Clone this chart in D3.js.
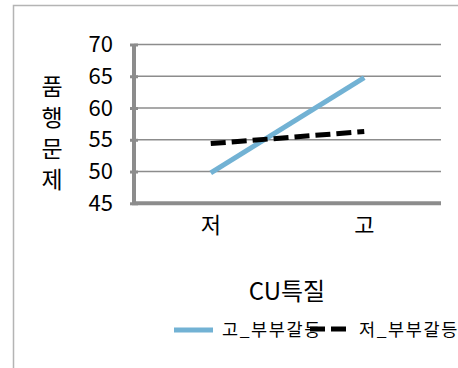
<!DOCTYPE html>
<html><head><meta charset="utf-8">
<script src="https://cdn.jsdelivr.net/npm/d3@7"></script>
<style>body{margin:0;background:#fff;}svg{display:block;font-family:"Noto Sans CJK KR","Noto Sans",sans-serif;}</style>
</head><body>
<script>
const categories = ["저", "고"];
const seriesNames = ["고_부부갈등", "저_부부갈등"];
const highConflict = [49.8, 64.8];
const lowConflict = [54.4, 56.3];
const yTicks = [45, 50, 55, 60, 65, 70];
const yTitle = "품행문제";
const xTitle = "CU특질";

(function () {
const W = 458, H = 368;
const svg = d3.select("body").append("svg").attr("width", W).attr("height", H);

svg.append("rect").attr("x", 13.5).attr("y", 5.5).attr("width", 460).attr("height", 380)
  .attr("fill", "#fff").attr("stroke", "#b4b4b4").attr("stroke-width", 1.5);

const pl = 134, pr = 441, pt = 44.5, pb = 203.3;
const x = d3.scaleBand().domain(categories).range([pl, pr]);
const y = d3.scaleLinear().domain([45, 70]).range([pb, pt]);

// gridlines
svg.append("g").selectAll("line").data(yTicks.filter(d => d > 45)).join("line")
  .attr("x1", pl).attr("x2", pr).attr("y1", d => y(d)).attr("y2", d => y(d))
  .attr("stroke", "#8c8c8c").attr("stroke-width", 1.5);

// y axis
const yAxis = svg.append("g").attr("transform", `translate(${pl},0)`)
  .call(d3.axisLeft(y).tickValues(yTicks).tickSize(5).tickPadding(16).tickFormat(d3.format("d")));
yAxis.select(".domain").attr("stroke", "#8c8c8c").attr("stroke-width", 4).attr("d", `M0,${pt}V${pb}`);
yAxis.selectAll(".tick line").attr("stroke", "#8c8c8c").attr("stroke-width", 3).attr("x1", 4).attr("x2", -4);
yAxis.selectAll(".tick text").attr("font-size", 22).attr("fill", "#000").attr("font-family", "'Noto Sans CJK KR'");

// x axis
const xAxis = svg.append("g").attr("transform", `translate(0,${pb})`)
  .call(d3.axisBottom(x).tickSize(0).tickPadding(14));
xAxis.select(".domain").attr("stroke", "#8c8c8c").attr("stroke-width", 4).attr("d", `M${pl - 2},0H${pr}`);
xAxis.selectAll(".tick text").attr("font-size", 22).attr("fill", "#000").attr("font-family", "'Noto Sans CJK KR'");

const line = d3.line().x((d, i) => x(categories[i]) + x.bandwidth() / 2).y(d => y(d));

svg.append("path").datum(highConflict).attr("d", line)
  .attr("fill", "none").attr("stroke", "#72b2d4").attr("stroke-width", 5);
svg.append("path").datum(lowConflict).attr("d", line)
  .attr("fill", "none").attr("stroke", "#000").attr("stroke-width", 5).attr("stroke-dasharray", "15,6");

// y title stacked
svg.append("g").selectAll("text").data(Array.from(yTitle)).join("text")
  .attr("x", 52).attr("y", (d, i) => 95 + i * 31).attr("text-anchor", "middle")
  .attr("font-size", 23).attr("fill", "#000").text(d => d);

svg.append("text").attr("x", 287).attr("y", 300).attr("text-anchor", "middle")
  .attr("font-size", 24).attr("fill", "#000").text(xTitle);

// legend
const lg = svg.append("g");
lg.append("line").attr("x1", 174).attr("x2", 213).attr("y1", 330).attr("y2", 330)
  .attr("stroke", "#72b2d4").attr("stroke-width", 5);
lg.append("text").attr("x", 222).attr("y", 336).attr("font-size", 17.5).attr("letter-spacing", 1.6).attr("fill", "#000").text(seriesNames[0]);
lg.append("line").attr("x1", 310).attr("x2", 350).attr("y1", 329).attr("y2", 329)
  .attr("stroke", "#000").attr("stroke-width", 5).attr("stroke-dasharray", "15,6");
lg.append("text").attr("x", 359).attr("y", 336).attr("font-size", 17.5).attr("letter-spacing", 1.6).attr("fill", "#000").text(seriesNames[1]);
})();
</script>
</body></html>
